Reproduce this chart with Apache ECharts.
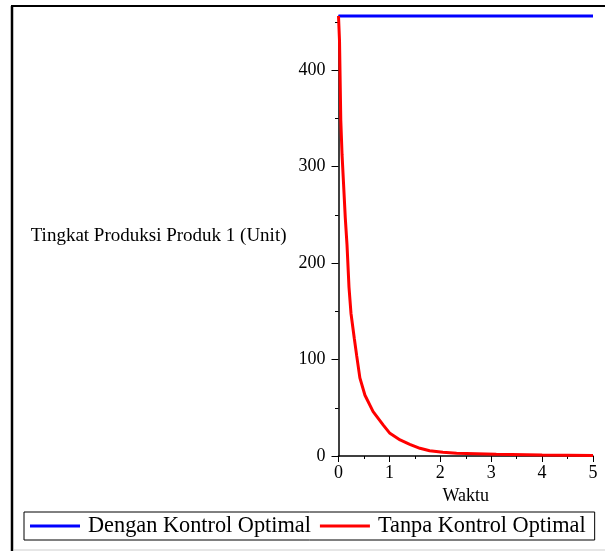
<!DOCTYPE html>
<html>
<head>
<meta charset="utf-8">
<script src="https://cdn.jsdelivr.net/npm/echarts@6/dist/echarts.min.js"></script>
<style>
  html, body { margin: 0; padding: 0; background: #fff; }
  #chart { width: 605px; height: 551px; }
</style>
</head>
<body>
<div id="chart"></div>
<script>
// ---- data ----
const seriesNames = ['Dengan Kontrol Optimal', 'Tanpa Kontrol Optimal'];
const blueTime = [0, 5];
const blueValue = [456, 456];
const redTime = [0, 0.02, 0.045, 0.07, 0.105, 0.133, 0.167, 0.206, 0.245, 0.31, 0.357, 0.42, 0.52, 0.68, 0.88, 1.01, 1.21, 1.40, 1.60, 1.79, 2.05, 2.32, 3.1, 4.0, 5.0];
const redValue = [456, 430, 348, 312, 276, 247, 219, 175, 148, 122, 104, 81, 63, 46, 32, 23.5, 16.6, 12.1, 8, 5.5, 3.8, 2.8, 1.8, 1.0, 0.6];
const xTicks = [0, 1, 2, 3, 4, 5];
const yMajorTicks = [0, 100, 200, 300, 400];
const yMinorTicks = [50, 150, 250, 350, 450];
const xAxisTitle = 'Waktu';
const yAxisTitle = 'Tingkat Produksi Produk 1 (Unit)';

const pair = (xs, ys) => xs.map((x, i) => [x, ys[i]]);
const FONT = "'Liberation Serif', 'DejaVu Serif', serif";

const chart = echarts.init(document.getElementById('chart'), null, { renderer: 'canvas' });
chart.setOption({
  backgroundColor: '#fff',
  animation: false,
  grid: { left: 338.5, top: 16, right: 12, bottom: 95, containLabel: false },
  xAxis: {
    type: 'value', min: xTicks[0], max: xTicks[xTicks.length - 1], interval: 1,
    axisLine: { lineStyle: { color: '#000', width: 1.5 } },
    axisTick: { length: 6, lineStyle: { color: '#000', width: 1 } },
    minorTick: { show: true, splitNumber: 2, length: 3, lineStyle: { color: '#000', width: 1 } },
    splitLine: { show: false },
    axisLabel: { color: '#000', fontFamily: FONT, fontSize: 18, margin: 8 },
    name: xAxisTitle, nameLocation: 'middle', nameGap: 30,
    nameTextStyle: { color: '#000', fontFamily: FONT, fontSize: 18 }
  },
  yAxis: [{
    type: 'value', min: 0, max: 456, interval: 100,
    axisLine: { show: true, lineStyle: { color: '#000', width: 1.5 } },
    axisTick: { show: true, length: 7, customValues: yMajorTicks, lineStyle: { color: '#000', width: 1 } },
    splitLine: { show: false },
    axisLabel: { color: '#000', fontFamily: FONT, fontSize: 18, margin: 13, customValues: yMajorTicks },
    name: yAxisTitle, nameLocation: 'middle', nameRotate: 0, nameGap: 52,
    nameTextStyle: { color: '#000', fontFamily: FONT, fontSize: 19, align: 'right' }
  }, {
    type: 'value', min: 0, max: 456, position: 'left', offset: 0,
    axisLine: { show: false },
    axisTick: { show: true, length: 3.5, customValues: yMinorTicks, lineStyle: { color: '#000', width: 1 } },
    axisLabel: { show: false },
    splitLine: { show: false }
  }],
  legend: {
    data: seriesNames,
    left: 24, top: 512,
    orient: 'horizontal',
    icon: 'rect',
    itemWidth: 50, itemHeight: 3, itemGap: 9,
    padding: [3, 9, 3, 6],
    borderColor: '#000', borderWidth: 1,
    textStyle: { color: '#000', fontFamily: FONT, fontSize: 22.3, padding: [0, 0, 0, 3] }
  },
  graphic: [
    { type: 'line', shape: { x1: 12, y1: 6, x2: 12, y2: 551 }, style: { stroke: '#000', lineWidth: 2.5 } },
    { type: 'line', shape: { x1: 11, y1: 6, x2: 605, y2: 6 }, style: { stroke: '#000', lineWidth: 2 } },
    { type: 'line', shape: { x1: 14, y1: 550, x2: 605, y2: 550 }, style: { stroke: '#e6e6e6', lineWidth: 2 } }
  ],
  series: [{
    name: seriesNames[0], type: 'line', data: pair(blueTime, blueValue),
    symbol: 'none', clip: false,
    lineStyle: { color: '#0000ff', width: 3 }, itemStyle: { color: '#0000ff' }
  }, {
    name: seriesNames[1], type: 'line', data: pair(redTime, redValue),
    symbol: 'none', clip: false,
    lineStyle: { color: '#ff0000', width: 3 }, itemStyle: { color: '#ff0000' }
  }]
});
</script>
</body>
</html>
